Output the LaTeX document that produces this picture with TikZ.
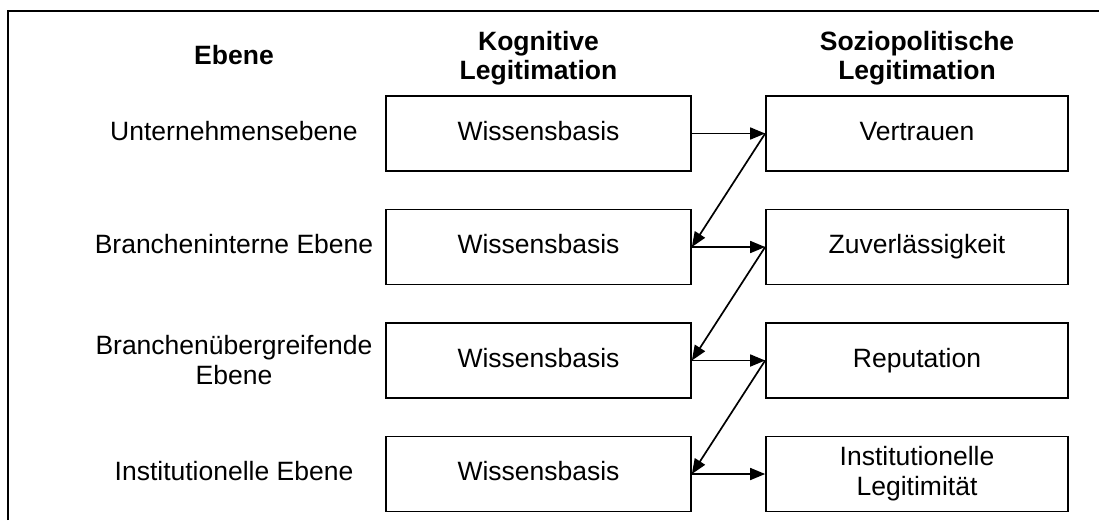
\documentclass[tikz,border=0pt]{standalone}
\usepackage{fontspec}
\setmainfont{Liberation Sans}
\usetikzlibrary{arrows.meta}
\begin{document}
\begin{tikzpicture}[x=1pt,y=-1pt,
  txt/.style={font=\fontsize{26.5}{30}\selectfont, align=center, inner sep=0pt},
  one/.style={text height=19pt, text depth=5.5pt},
  hdr/.style={txt, font=\fontsize{26.5}{28.5}\selectfont\bfseries},
  boxA/.style={txt, draw, line width=1.7pt, minimum width=305pt, minimum height=75pt},
  boxB/.style={txt, draw, line width=1.7pt, minimum width=302pt, minimum height=75pt},
  conn/.style={line width=1.7pt, -{Triangle[length=15pt,width=12pt]}}]
\useasboundingbox (0,0) rectangle (1099,520);
\draw[line width=2pt] (8,520) -- (8,11) -- (1099,11);
% headers
\node[hdr,one] (h0) at (234,58) {Ebene};
\node[hdr] (h1) at (538.5,58) {Kognitive\\Legitimation};
\node[hdr] (h2) at (917,58) {Soziopolitische\\Legitimation};
% row labels
\node[txt,one] (l1) at (234,133.5) {Unternehmensebene};
\node[txt,one] (l2) at (234,247) {Brancheninterne Ebene};
\node[txt] (l3) at (234,360.5) {Branchen\"ubergreifende\\Ebene};
\node[txt,one] (l4) at (234,474) {Institutionelle Ebene};
% boxes
\node[boxA,one] (a1) at (538.5,133.5) {Wissensbasis};
\node[boxA,one] (a2) at (538.5,247) {Wissensbasis};
\node[boxA,one] (a3) at (538.5,360.5) {Wissensbasis};
\node[boxA,one] (a4) at (538.5,474) {Wissensbasis};
\node[boxB,one] (b1) at (917,133.5) {Vertrauen};
\node[boxB,one] (b2) at (917,247) {Zuverl\"assigkeit};
\node[boxB,one] (b3) at (917,360.5) {Reputation};
\node[boxB] (b4) at (917,474) {Institutionelle\\Legitimit\"at};
% connectors
\draw[conn] (a1.east) -- (b1.west);
\draw[conn] (a2.east) -- (b2.west);
\draw[conn] (a3.east) -- (b3.west);
\draw[conn] (a4.east) -- (b4.west);
\draw[conn] (b1.west) -- (a2.east);
\draw[conn] (b2.west) -- (a3.east);
\draw[conn] (b3.west) -- (a4.east);
\end{tikzpicture}
\end{document}
